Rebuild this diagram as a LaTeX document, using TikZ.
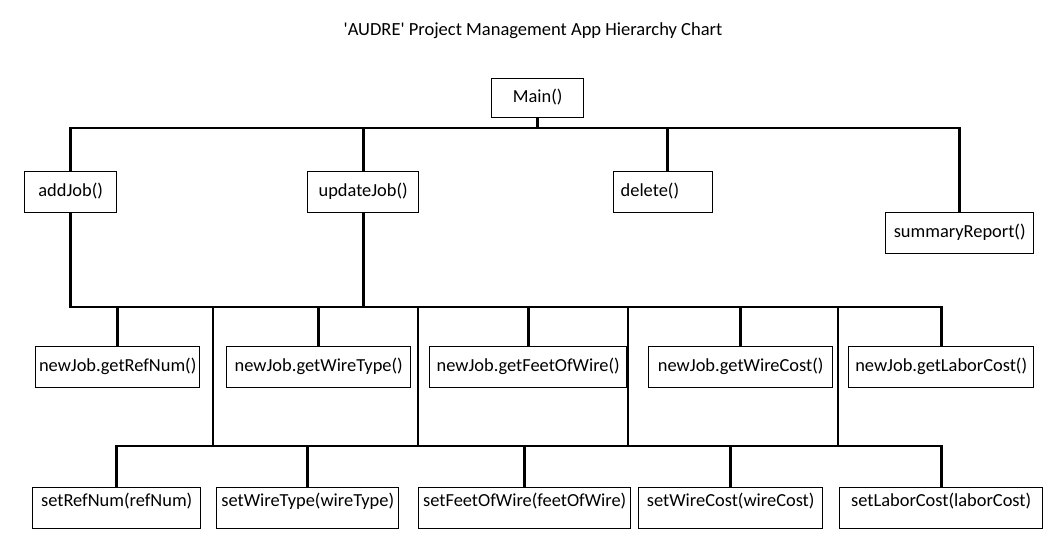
\documentclass[tikz,border=0pt]{standalone}
\usepackage{fontspec}
\setmainfont{Carlito}[Ligatures=TeXOff]
\usepackage{tikz}
\usetikzlibrary{arrows}

\begin{document}
\begin{tikzpicture}[x=1pt,y=-1pt,font=\fontsize{18.4}{22}\selectfont]
    \tikzstyle{box}=[draw, line width=1.4pt, inner sep=0pt, minimum height=41pt, text height=12pt, text depth=4pt, anchor=north west]
\tikzstyle{lowbox}=[box, text depth=16pt]
\tikzstyle{bus}=[line width=2.6pt]
\useasboundingbox (0,0) rectangle (1063,552);
\node[font=\fontsize{18.5}{22}\selectfont] (title) at (533,31) {'AUDRE' Project Management App Hierarchy Chart};
\node[box, minimum width=92pt, minimum height=39pt] (main) at (491,78) {Main()};
\node[box, minimum width=92pt] (addjob) at (24,171) {addJob()};
\node[box, minimum width=111pt] (update) at (307,171) {updateJob()};
\node[box, minimum width=99pt, text width=85pt, align=left] (delete) at (613,171) {delete()};
\node[box, minimum width=148pt] (summary) at (885,212) {summaryReport()};
\node[box, minimum width=164pt] (getref) at (35,346) {newJob.getRefNum()};
\node[box, minimum width=184pt] (gettype) at (226,346) {newJob.getWireType()};
\node[box, minimum width=197pt] (getfeet) at (429,346) {newJob.getFeetOfWire()};
\node[box, minimum width=184pt] (getcost) at (648,346) {newJob.getWireCost()};
\node[box, minimum width=185pt] (getlabor) at (848,346) {newJob.getLaborCost()};
\node[lowbox, minimum width=168pt] (setref) at (32,487) {setRefNum(refNum)};
\node[lowbox, minimum width=182pt] (settype) at (216,487) {setWireType(wireType)};
\node[lowbox, minimum width=212pt] (setfeet) at (418,487) {setFeetOfWire(feetOfWire)};
\node[lowbox, minimum width=184pt] (setcost) at (638,487) {setWireCost(wireCost)};
\node[lowbox, minimum width=203pt] (setlabor) at (839,487) {setLaborCost(laborCost)};
\coordinate (bus1) at (0,128);
\coordinate (bus2) at (0,307);
\coordinate (bus3) at (0,446);
\draw[bus] (main.south) -- (main.south |- bus1);
\draw[bus] (addjob.north) |- (summary.north |- bus1) -- (summary.north);
\draw[bus] (update.north) -- (update.north |- bus1);
\draw[bus] ([xshift=4pt]delete.north) -- ([xshift=4pt]delete.north |- bus1);
\draw[bus] (addjob.south) |- (getlabor.north |- bus2) -- (getlabor.north);
\draw[bus] (update.south) -- (update.south |- bus2);
\foreach \n in {getref,gettype,getfeet,getcost}
    \draw[bus] (\n.north) -- (\n.north |- bus2);
\foreach \x [count=\i] in {213,418,628,838} {
    \coordinate (link\i) at (\x,0);
    \draw[bus] (link\i |- bus2) -- (link\i |- bus3);
}
\draw[bus] (setref.north) |- (setlabor.north |- bus3) -- (setlabor.north);
\foreach \n in {settype,setfeet,setcost}
    \draw[bus] (\n.north) -- (\n.north |- bus3);
\end{tikzpicture}
\end{document}
